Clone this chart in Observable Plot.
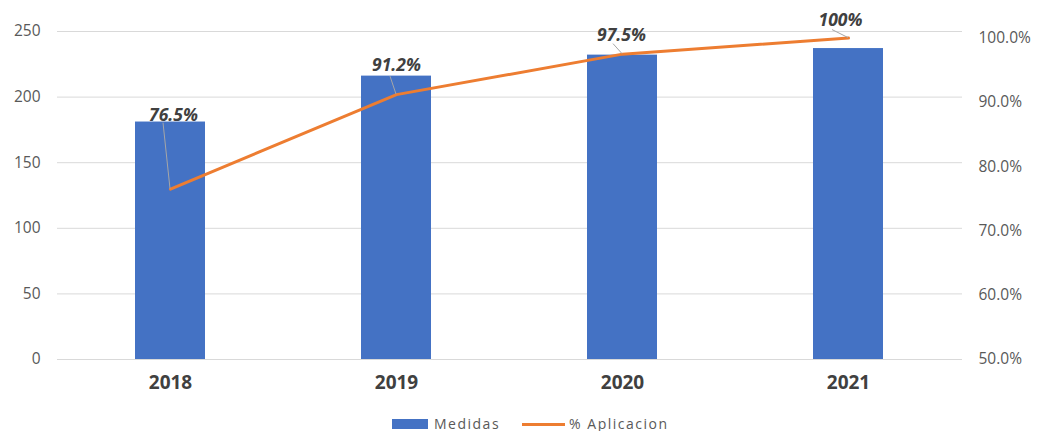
<!DOCTYPE html>
<html>
<head>
<meta charset="utf-8">
<script src="https://cdn.jsdelivr.net/npm/d3@7"></script>
<script src="https://cdn.jsdelivr.net/npm/@observablehq/plot@0.6"></script>
<style>
  html, body { margin: 0; background: #fff; font-family: "Open Sans", sans-serif; overflow: hidden; }
  #chart svg { display: block; }
  #legend { display: flex; align-items: center; height: 14px; line-height: 14px; margin-top: 16px; margin-left: 392px; color: #595959; font-size: 14px; letter-spacing: 1.5px; }
  .sw-bar { width: 36px; height: 10px; background: #4472C4; margin-right: 6px; }
  .sw-line { width: 43px; height: 3px; background: #ED7D31; margin-left: 22px; margin-right: 4px; }
</style>
</head>
<body>
<div id="chart"></div>
<div id="legend"><div class="sw-bar"></div><span>Medidas</span><div class="sw-line"></div><span>% Aplicacion</span></div>
<script>
const years = ["2018", "2019", "2020", "2021"];
const medidas = [181, 216, 232, 237];
const aplicacion = [76.5, 91.2, 97.5, 100];
const aplicacionLabels = ["76.5%", "91.2%", "97.5%", "100%"];
const leftTicks = [0, 50, 100, 150, 200, 250];
const rightTicks = [50, 60, 70, 80, 90, 100];

// secondary axis: percent mapped onto left-axis units
const pctToY = p => (p - 50) * 4.9;
const yToPct = v => v / 4.9 + 50;

// label layout (px offsets from each line point)
const labelDx = [3, 0, -1, -8];
const labelDy = [-74, -29, -19, -18];
const leaderStart = [[-7, -66], [-6, -18], [-9, -10], [-16, -8]];

const rows = years.map((y, i) => ({year: y, medidas: medidas[i], pct: aplicacion[i], label: aplicacionLabels[i], i}));

function leaders(index, scales) {
  const g = d3.create("svg:g");
  const bw = scales.x.bandwidth ? scales.x.bandwidth() : 0;
  rows.forEach((r, k) => {
    const px = scales.x(r.year) + bw / 2;
    const py = scales.y(pctToY(r.pct));
    g.append("line")
      .attr("x1", px + leaderStart[k][0]).attr("y1", py + leaderStart[k][1])
      .attr("x2", px).attr("y2", py)
      .attr("stroke", "#a6a6a6").attr("stroke-width", 1);
  });
  return g.node();
}

const chart = Plot.plot({
  width: 1037,
  height: 401,
  marginLeft: 57,
  marginRight: 75,
  marginTop: 31,
  marginBottom: 42,
  style: {fontFamily: "Open Sans, sans-serif", background: "#fff"},
  x: {domain: years, type: "band", paddingInner: 0.69, paddingOuter: 0.345, axis: null},
  y: {domain: [0, 250], axis: null},
  marks: [
    Plot.gridY(leftTicks, {stroke: "#d9d9d9", strokeOpacity: 1, strokeWidth: 1}),
    Plot.axisY(leftTicks, {anchor: "left", tickSize: 0, tickPadding: 17, fontSize: 15.5, fill: "#595959", label: null}),
    Plot.axisY(rightTicks.map(pctToY), {anchor: "right", tickSize: 0, tickPadding: 16, fontSize: 15.5, fill: "#595959", label: null,
      tickFormat: v => yToPct(v).toFixed(1) + "%"}),
    Plot.axisX(years, {anchor: "bottom", tickSize: 0, tickPadding: 16, fontSize: 19, fontWeight: "bold", fill: "#404040", label: null}),
    Plot.barY(rows, {x: "year", y: "medidas", fill: "#4472C4"}),
    Plot.line(rows, {x: "year", y: d => pctToY(d.pct), stroke: "#ED7D31", strokeWidth: 3}),
    leaders,
    ...rows.map((r, k) => Plot.text([r], {x: "year", y: d => pctToY(d.pct), text: "label", dx: labelDx[k], dy: labelDy[k],
      fontSize: 17.5, fontWeight: "bold", fontStyle: "italic", fill: "#404040"}))
  ]
});
document.getElementById("chart").appendChild(chart);
</script>
</body>
</html>
